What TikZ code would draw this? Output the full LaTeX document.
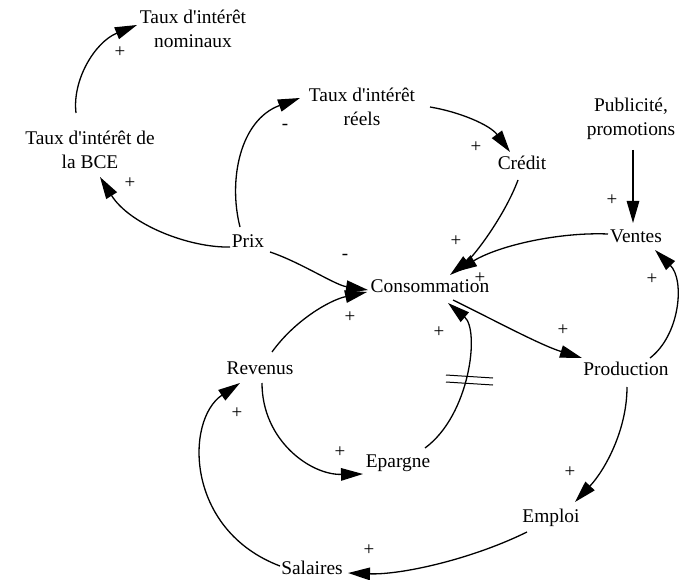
\documentclass[tikz,border=0pt]{standalone}
\usepackage{fontspec}
% plain font family, so that the apostrophe stays straight
\newfontfamily\varfont{Liberation Serif}
\usetikzlibrary{arrows.meta,calc}
\begin{document}
\begin{tikzpicture}[x=1pt,y=-1pt,
  var/.style={inner sep=0pt, align=center, text height=13.6pt, text depth=4.3pt,
    font=\varfont\fontsize{19.4}{24}\selectfont},
  var2/.style={inner sep=0pt, align=center,
    font=\varfont\fontsize{19.4}{24}\selectfont},
  link/.style={line width=1.3pt, -{Triangle[length=22pt,width=12.5pt]}},
  sign/.style={inner sep=0pt, font=\varfont\fontsize{19}{19}\selectfont},
  delay/.style={line width=1pt}]
\useasboundingbox (0,0) rectangle (688,580);

% variables of the causal loop diagram
\node[var2] (nom)     at (193,29)  {Taux d'intérêt\\nominaux};
\node[var2] (bce)     at (90,150)  {Taux d'intérêt de\\la BCE};
\node[var] (prix)     at (248,243) {Prix};
\node[var2] (reels)   at (362,107) {Taux d'intérêt\\réels};
\node[var] (credit)   at (522,165) {Crédit};
\node[var2] (pub)     at (631,119) {Publicité,\\promotions};
\node[var] (ventes)   at (636,238) {Ventes};
\node[var] (conso)    at (430,288) {Consommation};
\node[var] (revenus)  at (260,370) {Revenus};
\node[var] (prod)     at (626,371) {Production};
\node[var] (epargne)  at (398,463) {Epargne};
\node[var] (emploi)   at (551,518) {Emploi};
\node[var] (salaires) at (312,570) {Salaires};

% causal links
\draw[link] ($(bce)+(-14,-37)$) .. controls (72,80) and (95,42) .. ($(nom)+(-56,-4)$);
\draw[link] ($(prix)+(-18,4)$) .. controls (190,248) and (130,225) .. ($(bce)+(10,27)$);
\draw[link] ($(prix)+(-8,-16)$) .. controls (228,180) and (240,120) .. ($(reels)+(-62,-9)$);
\draw[link] ($(prix)+(22,9)$) .. controls (300,262) and (335,285) .. ($(conso)+(-62,2)$);
\draw[link] ($(reels)+(68,0)$) .. controls (460,112) and (490,125) .. ($(credit)+(-12,-13)$);
\draw[link] ($(credit)+(-4,15)$) .. controls (505,215) and (475,255) .. ($(conso)+(20,-13)$);
\draw[link] ($(ventes)+(-28,-4)$) .. controls (560,232) and (500,245) .. ($(conso)+(25,-16)$);
\draw[link] ($(pub)+(2,31)$) -- ($(ventes)+(-3,-15)$);
\draw[link] ($(prod)+(24,-13)$) .. controls (680,335) and (685,280) .. ($(ventes)+(19,12)$);
\draw[link] ($(conso)+(23,12)$) .. controls (490,318) and (540,345) .. ($(prod)+(-44,-13)$);
\draw[link] ($(revenus)+(12,-18)$) .. controls (295,320) and (330,300) .. ($(conso)+(-63,4)$);
\draw[link] ($(epargne)+(27,-15)$) .. controls (470,415) and (480,330) .. ($(conso)+(18,15)$);
\draw[link] ($(revenus)+(2,13)$) .. controls (262,440) and (310,475) .. ($(epargne)+(-35,11)$);
\draw[link] ($(prod)+(1,16)$) .. controls (627,430) and (605,470) .. ($(emploi)+(24,-16)$);
\draw[link] ($(emploi)+(-24,14)$) .. controls (470,560) and (400,575) .. ($(salaires)+(36,3)$);
\draw[link] ($(salaires)+(-32,-4)$) .. controls (185,530) and (185,420) .. ($(revenus)+(-20,13)$);

% delay mark on the savings link
\draw[delay] (446,375) -- (493,378);
\draw[delay] (446,382) -- (493,385);

% link polarities
\node[sign] (s1)  at (120,52)  {+};
\node[sign] (s2)  at (130,183) {+};
\node[sign] (s3)  at (285,127) {-};
\node[sign] (s4)  at (345,257) {-};
\node[sign] (s5)  at (476,147) {+};
\node[sign] (s6)  at (456,241) {+};
\node[sign] (s7)  at (480,278) {+};
\node[sign] (s8)  at (612,200) {+};
\node[sign] (s9)  at (652,279) {+};
\node[sign] (s10) at (563,330) {+};
\node[sign] (s11) at (350,317) {+};
\node[sign] (s12) at (439,332) {+};
\node[sign] (s13) at (340,452) {+};
\node[sign] (s14) at (570,472) {+};
\node[sign] (s15) at (369,550) {+};
\node[sign] (s16) at (237,413) {+};
\end{tikzpicture}
\end{document}
